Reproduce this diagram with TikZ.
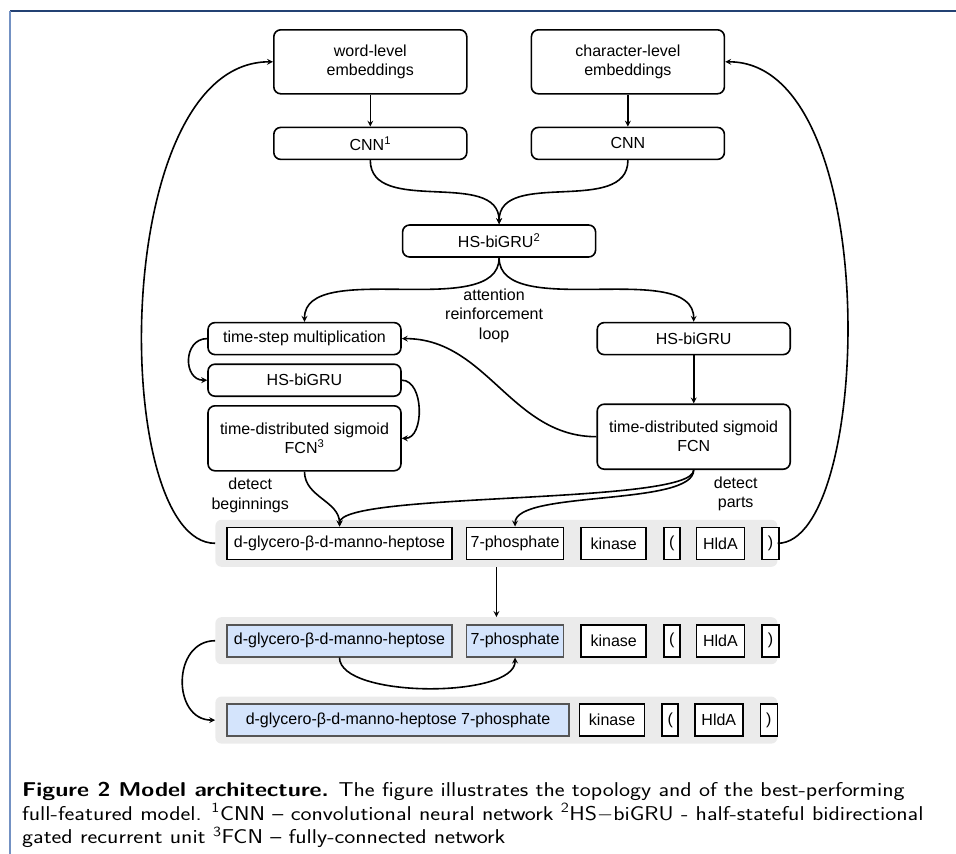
\documentclass[tikz,border=0pt]{standalone}
\usepackage{fontspec}
\setmainfont{Liberation Sans}
\newfontfamily\capfont{Latin Modern Sans}[FakeStretch=1.17,Ligatures=TeX]
\usetikzlibrary{calc}

\definecolor{rowgray}{RGB}{235,235,235}
\definecolor{tokblue}{RGB}{212,228,252}
\definecolor{tokedge}{RGB}{85,85,85}
\definecolor{framedark}{RGB}{35,65,115}
\definecolor{framelight}{RGB}{115,145,195}

\begin{document}
\begin{tikzpicture}[x=1pt,y=1pt]
      \newcommand{\boxwidth}[0]{193pt}
      \newcommand{\tallheight}[0]{64pt}
      \newcommand{\lowheight}[0]{32pt}
      \newcommand{\stackgap}[0]{8pt}
      \newcommand{\layergap}[0]{64pt}
      \newcommand{\rowwidth}[0]{562pt}
      \newcommand{\rowheight}[0]{47pt}
      
      \useasboundingbox (0,0) rectangle (956,-854);
      \coordinate (origo) at (0,0);
      
      \tikzstyle{block}=[
        rectangle,
        draw=black,
        rounded corners=7pt,
        anchor=center,
        align=center,
        line width=1.6pt,
        font=\fontsize{16pt}{19pt}\selectfont,
        minimum width=\boxwidth,
        minimum height=\lowheight,
        inner sep=0pt,
      ]
      \tikzstyle{tall} = [
        block,
        minimum height=\tallheight,
      ]
      \tikzstyle{row} = [
        rectangle,
        fill=rowgray,
        rounded corners=6pt,
        minimum width=\rowwidth,
        minimum height=\rowheight,
        inner sep=0pt,
      ]
      \tikzstyle{token} = [
        rectangle,
        draw=black,
        fill=white,
        line width=1.6pt,
        font=\fontsize{16pt}{19pt}\selectfont,
        minimum height=\lowheight,
        inner sep=1pt,
        anchor=west,
      ]
      \tikzstyle{merged} = [
        token,
        draw=tokedge,
        fill=tokblue,
      ]
      \tikzstyle{note} = [
        align=center,
        font=\fontsize{16pt}{19.5pt}\selectfont,
      ]
      \tikzstyle{edge} = [
        line width=1.6pt,
        ->,
        >=stealth,
        draw,
      ]
      \tikzstyle{caption} = [
        anchor=north west,
        align=left,
        inner sep=0pt,
        font=\capfont\fontsize{20pt}{23.5pt}\selectfont,
      ]
      
      % page frame
      \draw[line width=1.5pt, framedark] (10,-11) -- (956,-11);
      \draw[line width=1.5pt, framelight] (10,-11) -- (10,-854);
      
      % embeddings
      {
        \node[tall,anchor=north west] (word)
          at ([xshift=273pt, yshift=-29pt] origo) {word-level\\embeddings};
        \node[tall,anchor=west] (char)
          at ([xshift=63pt] word.east) {character-level\\embeddings};
        
        \node[block,anchor=north] (cnnI) at ([yshift=-32pt] word.south) {CNN\textsuperscript{1}};
        \node[block,anchor=north] (cnnII) at ([yshift=-32pt] char.south) {CNN};
        
        \draw[edge] (word) -- (cnnI);
        \draw[edge] (char) -- (cnnII);
      }
      
      % shared recurrent layer
      {
        \node[block,anchor=north] (gru)
          at ([yshift=-\layergap] $(cnnI.south)!0.5!(cnnII.south)$) {HS-biGRU\textsuperscript{2}};
        
        \draw[edge] (cnnI.south)  to [out=270,in=90] (gru.north);
        \draw[edge] (cnnII.south) to [out=270,in=90] (gru.north);
      }
      
      % left branch: beginnings
      {
        \node[block,anchor=north east] (tsm)
          at ([yshift=-\layergap] gru.south west) {time-step multiplication};
        \node[block,anchor=north] (gruL)
          at ([yshift=-\stackgap] tsm.south) {HS-biGRU};
        \node[tall,anchor=north,minimum height=65pt] (fcnL)
          at ([yshift=-\stackgap] gruL.south) {time-distributed sigmoid\\FCN\textsuperscript{3}};
        
        \draw[edge] (gru.south) to [out=270,in=90,looseness=0.8] (tsm.north);
        \draw[edge] (tsm.west) to [out=180,in=180,looseness=1.5] (gruL.west);
        \draw[edge] (gruL.east) to [out=0,in=0] (fcnL.east);
      }
      
      % right branch: parts
      {
        \node[block,anchor=north west] (gruR)
          at ([yshift=-\layergap] gru.south east) {HS-biGRU};
        \node[tall,anchor=north,minimum height=65pt] (fcnR)
          at ([yshift=-48pt] gruR.south) {time-distributed sigmoid\\FCN};
        
        \draw[edge] (gru.south) to [out=270,in=90,looseness=0.8] (gruR.north);
        \draw[edge] (gruR) -- (fcnR);
        \draw[edge] (fcnR.west) to [out=180,in=0] (tsm.east);
      }
      
      \node[note] (loop) at ([xshift=-5pt, yshift=-58pt] gru.south) {attention\\reinforcement\\loop};
      \node[note] (begins) at ([xshift=43pt, yshift=-24pt] fcnL.south west) {detect\\beginnings};
      \node[note] (parts) at ([xshift=42pt, yshift=-24pt] fcnR.south) {detect\\parts};
      
      % token row 1: tagged
      {
        \node[row,anchor=north west] (rowI) at ([xshift=8pt, yshift=-48pt] fcnL.south west) {};
        
        \node[token,minimum width=225pt] (dgI) at ([xshift=11pt] rowI.west) {d-glycero-β-d-manno-heptose};
        \node[token,minimum width=97pt] (phI) at ([xshift=13pt] dgI.east) {7-phosphate};
        \node[token,minimum width=65pt] (kinI) at ([xshift=16pt] phI.east) {kinase};
        \node[token,minimum width=16pt] (lpI) at ([xshift=16pt] kinI.east) {(};
        \node[token,minimum width=48pt] (hlI) at ([xshift=15pt] lpI.east) {HldA};
        \node[token,minimum width=17pt] (rpI) at ([xshift=16pt] hlI.east) {)};
        
        \draw[edge] (fcnL.south) to [out=270,in=90] (dgI.north);
        \draw[edge] (fcnR.south) to [out=270,in=90,looseness=0.25] (dgI.north);
        \draw[edge] (fcnR.south) to [out=270,in=90,looseness=0.5] (phI.north);
        
        \draw[edge] (rowI.west) to [out=180,in=180,out distance=105pt,in distance=165pt] (word.west);
        \draw[edge] (rowI.east) to [out=0,in=0,out distance=95pt,in distance=160pt] (char.east);
      }
      
      % token row 2: beginning and part
      {
        \node[row,anchor=north] (rowII) at ([yshift=-50pt] rowI.south) {};
        
        \node[merged,minimum width=225pt] (dgII) at ([xshift=11pt] rowII.west) {d-glycero-β-d-manno-heptose};
        \node[merged,minimum width=97pt] (phII) at ([xshift=13pt] dgII.east) {7-phosphate};
        \node[token,minimum width=65pt] (kinII) at ([xshift=16pt] phII.east) {kinase};
        \node[token,minimum width=16pt] (lpII) at ([xshift=16pt] kinII.east) {(};
        \node[token,minimum width=48pt] (hlII) at ([xshift=15pt] lpII.east) {HldA};
        \node[token,minimum width=17pt] (rpII) at ([xshift=16pt] hlII.east) {)};
        
        \draw[edge] (rowI) -- (rowII);
        \draw[edge] (dgII.south) to [out=270,in=270,looseness=0.6] (phII.south);
      }
      
      % token row 3: merged entity
      {
        \node[row,anchor=north] (rowIII) at ([yshift=-32pt] rowII.south) {};
        
        \node[merged,minimum width=342pt] (dgIII) at ([xshift=11pt] rowIII.west) {d-glycero-β-d-manno-heptose 7-phosphate};
        \node[token,minimum width=65pt] (kinIII) at ([xshift=9pt] dgIII.east) {kinase};
        \node[token,minimum width=16pt] (lpIII) at ([xshift=16pt] kinIII.east) {(};
        \node[token,minimum width=48pt] (hlIII) at ([xshift=15pt] lpIII.east) {HldA};
        \node[token,minimum width=17pt] (rpIII) at ([xshift=16pt] hlIII.east) {)};
        
        \draw[edge] (rowII.west) to [out=180,in=180,looseness=1.4] (rowIII.west);
      }
      
      % caption
      \node[caption] (cap) at (22,-782) {\textbf{Figure 2\hspace{0.4em}Model architecture.} The figure illustrates the topology and of the best-performing\\
        full-featured model. \textsuperscript{1}CNN -- convolutional neural network \textsuperscript{2}HS$-$biGRU - half-stateful bidirectional\\
        gated recurrent unit \textsuperscript{3}FCN -- fully-connected network};
    \end{tikzpicture}
\end{document}
